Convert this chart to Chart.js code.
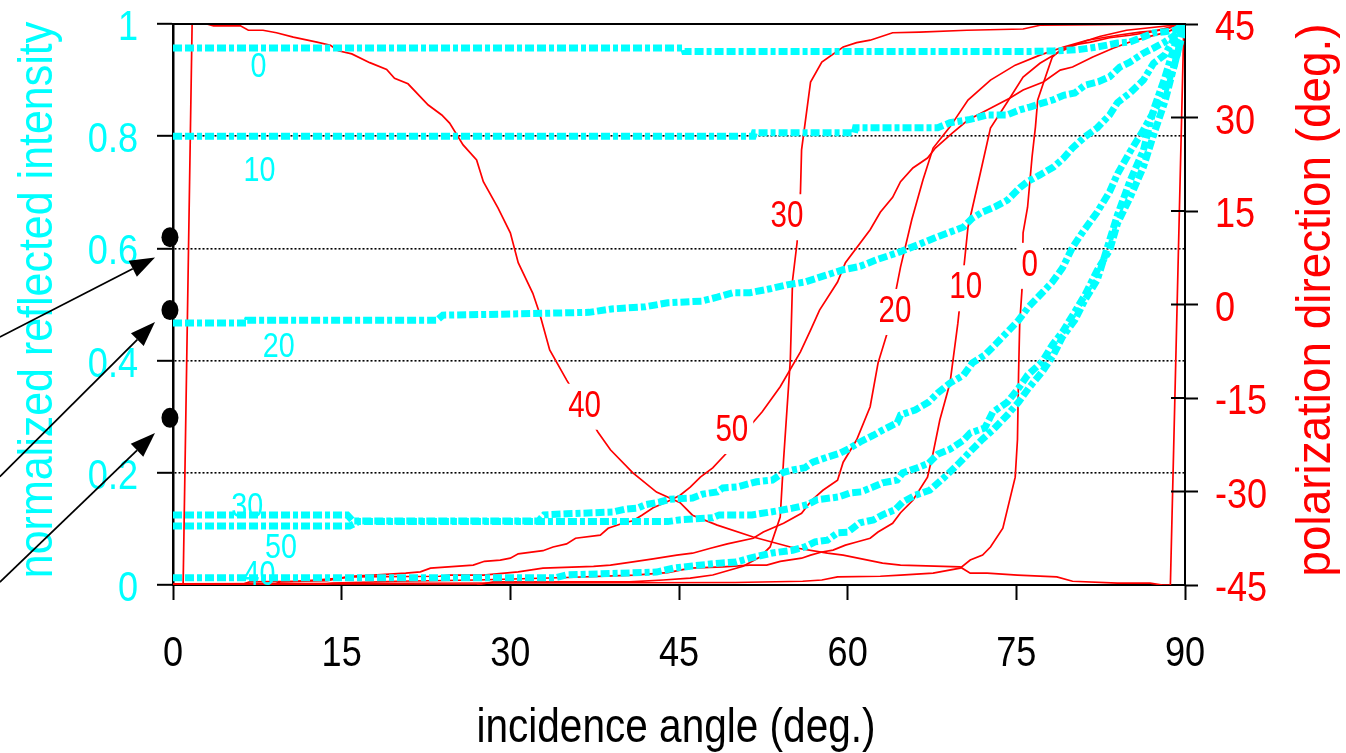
<!DOCTYPE html>
<html>
<head>
<meta charset="utf-8">
<script src="https://cdn.jsdelivr.net/npm/chart.js@4.4.1/dist/chart.umd.min.js"></script>
<style>
  html, body { margin: 0; padding: 0; background: #fff; }
  canvas { display: block; }
</style>
</head>
<body>
<canvas id="myChart" width="1346" height="753"></canvas>
<script>
// curve names (azimuth of the polarizer, deg.)
const curveNames = ["0", "10", "20", "30", "40", "50"];

// normalized reflected intensity (left axis) vs incidence angle
const int0 = [[0,0.957],[45.4,0.957],[45.5,0.951],[76.0,0.951],[78.3,0.952],[80.4,0.954],[82.2,0.959],[84.0,0.966],[85.1,0.968],[86.3,0.977],[87.2,0.984],[88.2,0.986],[89.1,0.989],[90,1]];
const int10 = [[0,0.80],[51.6,0.80],[51.7,0.806],[60.6,0.806],[60.7,0.815],[68,0.815],[69.1,0.824],[70.9,0.830],[72.4,0.838],[74.2,0.838],[75.3,0.847],[76.2,0.852],[77.3,0.859],[78.3,0.865],[79.2,0.873],[80.2,0.877],[81.1,0.891],[82.3,0.897],[83.3,0.906],[84.2,0.923],[85.1,0.932],[86.3,0.948],[87.2,0.957],[88.2,0.968],[89.1,0.980],[90,1]];
const int20 = [[0,0.467],[6.5,0.467],[6.6,0.472],[23.5,0.472],[24,0.481],[30,0.483],[37,0.486],[39,0.492],[42,0.496],[44,0.503],[47,0.506],[48.4,0.513],[49.8,0.521],[51.3,0.521],[53.1,0.528],[54.6,0.535],[56.2,0.540],[58.2,0.553],[59.6,0.562],[61.1,0.568],[62.6,0.580],[64.4,0.592],[66.2,0.606],[67.9,0.620],[69.1,0.629],[70.3,0.638],[71.1,0.654],[72.0,0.665],[73.1,0.674],[74.2,0.686],[75.3,0.708],[76.0,0.719],[77.1,0.731],[78.3,0.745],[79.2,0.761],[80.0,0.779],[81.1,0.799],[82.2,0.815],[83.3,0.838],[84.0,0.860],[85.1,0.877],[86.3,0.900],[87.2,0.930],[88.2,0.945],[89.1,0.977],[90,1]];
const int30 = [[0,0.125],[15.5,0.125],[16,0.114],[32.5,0.114],[33,0.125],[35,0.127],[39.1,0.130],[40.2,0.135],[41.3,0.137],[42.0,0.143],[43.3,0.148],[44.2,0.153],[46.2,0.155],[47.1,0.162],[48.4,0.166],[48.9,0.173],[50.2,0.175],[51.9,0.184],[53.3,0.187],[54.3,0.201],[55.1,0.205],[56.2,0.209],[56.9,0.219],[58.2,0.228],[59.3,0.235],[60.2,0.244],[61.1,0.255],[62.3,0.267],[63.1,0.276],[64.4,0.289],[64.7,0.303],[66.0,0.312],[67.2,0.326],[68.0,0.342],[69.1,0.360],[70.3,0.374],[71.1,0.396],[72.2,0.410],[73.1,0.428],[74.2,0.451],[75.2,0.472],[76.1,0.496],[77.3,0.521],[78.2,0.540],[79.1,0.565],[80.0,0.602],[80.9,0.629],[82.2,0.665],[83.3,0.701],[84.0,0.733],[85.1,0.772],[86.3,0.811],[87.2,0.843],[88.2,0.879],[89.1,0.930],[90,1]];
const int40 = [[0,0.013],[34,0.013],[35,0.018],[43,0.023],[44.5,0.030],[46.2,0.034],[48.6,0.039],[50.1,0.041],[51.3,0.048],[53.3,0.057],[55.1,0.062],[56.2,0.068],[57.1,0.077],[58.2,0.080],[59.1,0.093],[60.0,0.094],[61.1,0.111],[62.3,0.116],[63.1,0.125],[64.2,0.134],[64.9,0.148],[66.0,0.160],[67.3,0.169],[68.5,0.190],[69.8,0.215],[71.0,0.240],[72.0,0.260],[72.9,0.276],[74.2,0.303],[75.2,0.326],[76.1,0.351],[77.3,0.380],[78.3,0.410],[79.1,0.442],[80.2,0.472],[81.1,0.508],[82.2,0.544],[83.3,0.615],[84.0,0.660],[85.1,0.720],[86.3,0.775],[87.2,0.847],[88.2,0.904],[89.1,0.963],[90,1]];
const int50 = [[0,0.105],[15.7,0.105],[16.5,0.113],[44,0.113],[45,0.116],[48,0.120],[48.6,0.125],[51.5,0.125],[53.1,0.130],[54.3,0.134],[55.1,0.137],[56.4,0.143],[57.3,0.152],[59.2,0.157],[60.2,0.164],[61.2,0.166],[62.3,0.175],[63.1,0.182],[64.4,0.187],[64.9,0.200],[66.2,0.209],[67.2,0.217],[68.0,0.233],[69.1,0.242],[70.3,0.258],[70.9,0.271],[72.2,0.280],[72.9,0.308],[74.2,0.326],[75.2,0.351],[76.0,0.374],[77.3,0.398],[78.2,0.428],[79.1,0.451],[80.2,0.487],[81.1,0.517],[82.2,0.561],[83.3,0.597],[84.0,0.645],[85.1,0.690],[86.3,0.745],[87.2,0.802],[88.2,0.861],[89.1,0.930],[90,1]];

// polarization direction (right axis, deg.) vs incidence angle
const pol0 = [[0,-44.8],[50,-44.6],[56,-44.4],[57.7,-44.2],[59.1,-43.7],[62.9,-43.6],[64.7,-43.4],[67.6,-43.1],[70.0,-42.3],[70.9,-41.0],[72.0,-40.2],[72.7,-38.9],[73.8,-35.9],[74.9,-27.7],[75.1,-21.7],[75.2,-11.0],[75.3,-3.0],[75.5,2.3],[75.6,11.5],[76.0,15.6],[76.4,23.7],[76.7,28.5],[76.9,32.8],[77.4,35.5],[78.2,39.7],[78.9,40.8],[80.0,41.6],[81.6,42.1],[83.3,42.8],[85.1,43.2],[86.9,43.7],[88.7,44.5],[90,45]];
const pol10 = [[0,-45],[12.7,-45],[14.2,-44.7],[20,-44.4],[27,-44.2],[35,-43.8],[41,-43.4],[44,-43.0],[46.0,-42.3],[48.9,-42.1],[51.3,-41.8],[52.8,-41.8],[54.0,-41.2],[55.9,-40.7],[56.7,-40.2],[57.7,-39.7],[58.7,-39.4],[59.8,-38.6],[60.8,-38.1],[62.0,-37.5],[62.7,-36.5],[64.0,-35.1],[64.7,-33.4],[65.8,-31.4],[67.1,-27.7],[67.6,-23.8],[68.2,-18.5],[69.1,-12.6],[69.8,-3.0],[70.4,7.1],[70.7,12.4],[71.8,21.1],[72.7,28.3],[74.2,32.5],[75.6,36.5],[77.1,38.7],[78.6,40.3],[80.7,42.0],[82.4,43.0],[84.8,44.0],[90,45]];
const pol20 = [[0,-45],[8.9,-45],[9.5,-44.5],[11.8,-44.4],[13.7,-44.3],[14.9,-43.9],[15.9,-43.7],[23.7,-43.6],[24.6,-43.4],[27.6,-43.4],[30.7,-42.9],[32.9,-42.3],[37.4,-42.0],[38.9,-41.8],[40.9,-41.3],[42.7,-40.8],[44.8,-40.2],[46.2,-39.9],[47.8,-39.1],[49.3,-38.4],[51.6,-37.5],[52.5,-36.5],[54.3,-35.1],[55.9,-33.5],[56.8,-31.4],[57.8,-29.8],[59.1,-28.2],[59.6,-25.3],[60.8,-21.7],[62.0,-16.4],[62.7,-9.4],[63.6,-4.1],[64.7,6.0],[65.7,13.6],[66.7,20.0],[67.6,25.1],[69.1,28.5],[70.7,32.8],[72.7,36.0],[74.9,38.4],[77.1,40.0],[79.2,41.3],[81.3,42.4],[84.0,43.2],[86.0,43.7],[87.8,44.0],[90,45]];
const pol30 = [[0,-45],[27,-45],[28.5,-44.5],[40.6,-44.5],[43.6,-44.2],[46.0,-43.9],[48.0,-43.4],[50.7,-42.0],[52.2,-40.5],[53.1,-38.9],[54.0,-34.1],[54.3,-24.9],[54.9,-8.9],[55.1,3.9],[55.5,9.9],[55.8,17.9],[55.9,24.8],[56.7,35.7],[57.7,38.9],[59.6,41.3],[60.8,42.0],[62.0,42.4],[64.0,43.6],[66.4,43.7],[70.6,44.0],[75.6,44.2],[77.1,44.8],[90,45]];
const pol40 = [[0,-45],[0.9,-45],[1.7,45],[3.0,45],[3.6,44.7],[6.0,44.7],[6.7,44.0],[8.0,44.0],[9.2,43.6],[10.7,42.9],[12.8,42.1],[14.0,41.6],[14.7,40.7],[15.9,40.2],[17.5,38.8],[19.0,37.7],[19.7,36.3],[20.9,35.4],[22.7,32.0],[23.9,30.4],[24.6,29.1],[25.8,25.6],[27.0,23.2],[27.6,19.7],[28.9,15.5],[30.0,11.5],[30.7,6.7],[32.0,1.8],[32.6,-1.4],[33.5,-7.3],[35.0,-12.1],[37.8,-20.5],[38.9,-23.3],[40.9,-27.0],[43.0,-30.1],[45.1,-31.8],[46.2,-33.8],[48.4,-35.4],[51.6,-37.3],[54.9,-38.9],[58.2,-39.9],[59.6,-40.2],[63.1,-41.5],[64.7,-41.8],[70.0,-42.1],[70.9,-43.1],[72.4,-43.1],[75.1,-43.4],[78.6,-43.7],[80.0,-44.4],[84.0,-44.7],[86.9,-44.7],[88.0,-45],[88.7,-45],[89.9,45],[90,45]];
const pol50 = [[0,-45],[6.0,-45],[6.8,-44.5],[10.9,-44.4],[12.7,-44.2],[14.9,-43.9],[15.7,-43.6],[17.8,-43.4],[20.7,-43.1],[22.0,-42.9],[22.9,-42.3],[26.7,-41.8],[27.7,-41.2],[29.1,-41.0],[30.0,-40.7],[30.7,-40.0],[32.9,-39.5],[33.8,-38.9],[35.0,-38.4],[35.8,-37.5],[38.0,-37.0],[38.7,-35.9],[40.0,-35.1],[40.9,-34.7],[41.7,-33.8],[42.7,-32.6],[43.9,-31.7],[45.1,-30.6],[46.0,-29.3],[46.9,-27.7],[48.0,-26.2],[49.3,-23.7],[52.4,-17.2],[54.0,-13.2],[55.8,-7.6],[56.7,-4.1],[57.5,-0.9],[59.1,3.6],[59.8,6.7],[62.0,12.0],[62.9,14.8],[64.0,17.2],[64.7,19.7],[65.8,21.9],[67.1,23.5],[67.8,25.1],[69.3,27.5],[70.7,29.6],[72.7,31.5],[74.4,33.1],[75.6,34.4],[77.4,35.7],[78.9,37.6],[80.0,38.1],[81.8,39.7],[83.6,41.1],[85.1,42.1],[86.6,42.9],[88.4,43.7],[90,45]];

const intensity = [int0, int10, int20, int30, int40, int50];
const polarization = [pol0, pol10, pol20, pol30, pol40, pol50];

// where the curve names sit (incidence angle, axis value)
const intLabelAt = [[7.6,0.922],[7.7,0.738],[9.4,0.424],[6.6,0.139],[7.7,0.018],[9.6,0.066]];
const polLabelAt = [[76.2,6.2],[70.5,2.6],[64.2,-1.2],[54.6,14.0],[36.6,-16.4],[49.7,-20.3]];

// marked intensities at normal incidence, with the arrows pointing at them
const markedLevels = [0.62, 0.49, 0.298];
const arrowFrom = [[-15.4,0.442],[-15.4,0.193],[-15.4,0.005]];
const arrowTo = [[-1.6,0.584],[-1.6,0.469],[-1.6,0.271]];

const xTicks = [0, 15, 30, 45, 60, 75, 90];

const CYAN = "#00ffff";
const RED = "#ff0000";
const FAMILY = "'Liberation Sans', Arial, sans-serif";
const NARROW = 0.84;   // the original lettering is a condensed face

const toXY = arr => arr.map(p => ({ x: p[0], y: p[1] }));

const datasets = [];
intensity.forEach((d, i) => {
  datasets.push({
    label: "I " + curveNames[i],
    data: toXY(d),
    yAxisID: "y",
    borderColor: CYAN,
    borderWidth: 7,
    borderDash: [9, 3, 9, 3, 5, 3],
    borderCapStyle: "butt",
    pointRadius: 0,
    tension: 0
  });
});
polarization.forEach((d, i) => {
  datasets.push({
    label: "P " + curveNames[i],
    data: toXY(d),
    yAxisID: "y1",
    borderColor: RED,
    borderWidth: 1.7,
    pointRadius: 0,
    tension: 0
  });
});

// condensed text helper
function squeezed(ctx, text, x, y, sx, rot) {
  ctx.save();
  ctx.translate(x, y);
  if (rot) ctx.rotate(rot);
  ctx.scale(sx, 1);
  ctx.fillText(text, 0, 0);
  ctx.restore();
}
const fmt = v => String(Number(v.toFixed(2)));

const overlay = {
  id: "overlay",
  afterDatasetsDraw(chart) {
    const { ctx, chartArea: a, scales } = chart;
    const xs = scales.x, yl = scales.y, yr = scales.y1;
    ctx.save();

    // top frame and inner halves of the right ticks
    ctx.strokeStyle = "#000";
    ctx.lineWidth = 2;
    ctx.beginPath();
    ctx.moveTo(a.left, a.top);
    ctx.lineTo(a.right, a.top);
    ctx.stroke();
    yr.ticks.forEach(t => {
      if (t.value <= -45 || t.value >= 45) return;
      const py = yr.getPixelForValue(t.value);
      ctx.beginPath();
      ctx.moveTo(a.right - 14, py);
      ctx.lineTo(a.right, py);
      ctx.stroke();
    });

    ctx.textBaseline = "middle";
    ctx.textAlign = "center";

    // red curve names on white boxes
    ctx.font = "36px " + FAMILY;
    polLabelAt.forEach((p, i) => {
      const px = xs.getPixelForValue(p[0]);
      const py = yr.getPixelForValue(p[1]);
      const w = ctx.measureText(curveNames[i]).width * 0.82 + 10;
      ctx.fillStyle = "#fff";
      ctx.fillRect(px - w / 2, py - 23, w, 46);
      ctx.fillStyle = RED;
      squeezed(ctx, curveNames[i], px, py, 0.82);
    });

    // cyan curve names
    ctx.font = "35px " + FAMILY;
    ctx.fillStyle = CYAN;
    intLabelAt.forEach((p, i) => {
      squeezed(ctx, curveNames[i], xs.getPixelForValue(p[0]), yl.getPixelForValue(p[1]), 0.82);
    });

    // tick labels
    ctx.textBaseline = "alphabetic";
    ctx.font = "43px " + FAMILY;
    ctx.fillStyle = "#000";
    ctx.textAlign = "center";
    xs.ticks.forEach(t => squeezed(ctx, fmt(t.value), xs.getPixelForValue(t.value), a.bottom + 81, NARROW));
    ctx.fillStyle = CYAN;
    ctx.textAlign = "right";
    yl.ticks.forEach(t => squeezed(ctx, fmt(t.value), a.left - 35, yl.getPixelForValue(t.value) + 16, NARROW));
    ctx.fillStyle = RED;
    ctx.textAlign = "left";
    yr.ticks.forEach(t => squeezed(ctx, fmt(t.value), a.right + 30, yr.getPixelForValue(t.value) + 16, NARROW));

    // axis titles
    ctx.font = "48px " + FAMILY;
    ctx.textAlign = "center";
    ctx.fillStyle = "#000";
    squeezed(ctx, "incidence angle (deg.)", (a.left + a.right) / 2 - 3, 742, 0.845);
    ctx.fillStyle = CYAN;
    squeezed(ctx, "normalized reflected intensity", 52, 300, 0.895, -Math.PI / 2);
    ctx.fillStyle = RED;
    squeezed(ctx, "polarization direction (deg.)", 1330, 300, 0.955, -Math.PI / 2);

    // arrows
    ctx.strokeStyle = "#000";
    ctx.fillStyle = "#000";
    ctx.lineWidth = 1.8;
    arrowFrom.forEach((f, i) => {
      const x0 = xs.getPixelForValue(f[0]), y0 = yl.getPixelForValue(f[1]);
      const x1 = xs.getPixelForValue(arrowTo[i][0]), y1 = yl.getPixelForValue(arrowTo[i][1]);
      const ang = Math.atan2(y1 - y0, x1 - x0);
      const len = 25, hw = 9;
      const bx = x1 - len * Math.cos(ang), by = y1 - len * Math.sin(ang);
      ctx.beginPath();
      ctx.moveTo(x0, y0);
      ctx.lineTo(bx, by);
      ctx.stroke();
      ctx.beginPath();
      ctx.moveTo(x1, y1);
      ctx.lineTo(bx + hw * Math.sin(ang), by - hw * Math.cos(ang));
      ctx.lineTo(bx - hw * Math.sin(ang), by + hw * Math.cos(ang));
      ctx.closePath();
      ctx.fill();
    });

    // dots on the left axis
    markedLevels.forEach(v => {
      ctx.beginPath();
      ctx.ellipse(xs.getPixelForValue(-0.27), yl.getPixelForValue(v), 8.5, 10, 0, 0, Math.PI * 2);
      ctx.fill();
    });
    ctx.restore();
  }
};

new Chart(document.getElementById("myChart"), {
  type: "line",
  data: { datasets },
  options: {
    responsive: false,
    animation: false,
    events: [],
    layout: { padding: { top: 24, left: 0, right: 0, bottom: 0 } },
    plugins: { legend: { display: false }, tooltip: { enabled: false } },
    scales: {
      x: {
        type: "linear",
        min: 0,
        max: 90,
        afterBuildTicks: s => { s.ticks = xTicks.map(v => ({ value: v })); },
        ticks: { display: false },
        grid: { drawOnChartArea: false, color: "#000", tickColor: "#000", tickLength: 15, tickWidth: 2 },
        border: { color: "#000", width: 2 },
        afterFit: s => { s.height = 168; }
      },
      y: {
        position: "left",
        min: 0,
        max: 1,
        ticks: { display: false, stepSize: 0.2 },
        grid: {
          color: c => (c.tick && (Math.abs(c.tick.value) < 1e-6 || Math.abs(c.tick.value - 1) < 1e-6)) ? "rgba(0,0,0,0)" : "#000",
          lineWidth: 1.6,
          tickColor: "#000",
          tickLength: 16,
          tickWidth: 2
        },
        border: { color: "#000", width: 2.5, dash: [2, 2] },
        afterFit: s => { s.width = 173; }
      },
      y1: {
        position: "right",
        min: -45,
        max: 45,
        ticks: { display: false, stepSize: 15 },
        grid: { drawOnChartArea: false, color: "#000", tickColor: "#000", tickLength: 13, tickWidth: 2 },
        border: { color: "#000", width: 2 },
        afterFit: s => { s.width = 161; }
      }
    }
  },
  plugins: [overlay]
});
</script>
</body>
</html>
